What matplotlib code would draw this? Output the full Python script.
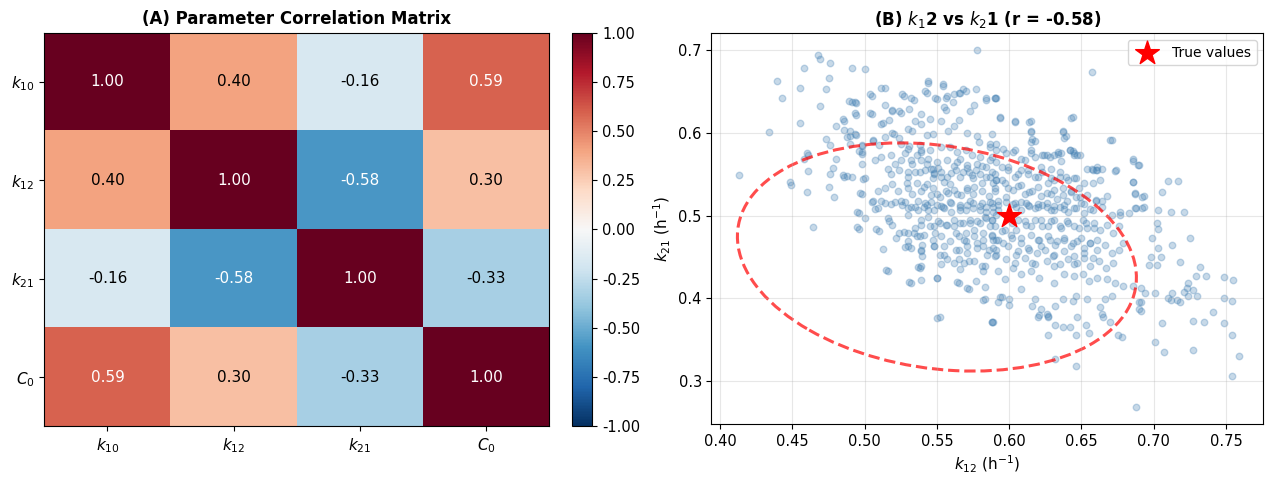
import numpy as np
import matplotlib
matplotlib.use("Agg")
import matplotlib.pyplot as plt
from matplotlib.patches import Ellipse

# --- panel A: correlation matrix ---
param_labels = ['$k_{10}$', '$k_{12}$', '$k_{21}$', '$C_0$']
corr = np.array([
    [1.00, 0.40, -0.16, 0.59],
    [0.40, 1.00, -0.58, 0.30],
    [-0.16, -0.58, 1.00, -0.33],
    [0.59, 0.30, -0.33, 1.00],
])

# --- panel B: posterior samples (k12, k21) ---
outer_left = np.array([
    [0.413, 0.549], [0.434, 0.601], [0.439, 0.663], [0.443, 0.643], [0.455, 0.655], [0.455, 0.612],
    [0.458, 0.679], [0.468, 0.695], [0.469, 0.690], [0.476, 0.685], [0.475, 0.667], [0.473, 0.653],
    [0.469, 0.633], [0.473, 0.593], [0.480, 0.609], [0.476, 0.585], [0.491, 0.679], [0.500, 0.678],
    [0.489, 0.639], [0.493, 0.637], [0.485, 0.617], [0.493, 0.624], [0.486, 0.604], [0.490, 0.596],
    [0.494, 0.598], [0.496, 0.578], [0.504, 0.647], [0.504, 0.624], [0.511, 0.655], [0.514, 0.634],
    [0.519, 0.628], [0.526, 0.647], [0.532, 0.642], [0.513, 0.612], [0.524, 0.627], [0.524, 0.594],
    [0.519, 0.600], [0.506, 0.590], [0.498, 0.584], [0.460, 0.576], [0.461, 0.574], [0.458, 0.568],
    [0.461, 0.554], [0.448, 0.541], [0.449, 0.537], [0.460, 0.529], [0.475, 0.535], [0.476, 0.551],
    [0.479, 0.523], [0.485, 0.549], [0.488, 0.548], [0.495, 0.505], [0.495, 0.486], [0.464, 0.486],
    [0.497, 0.527], [0.499, 0.544], [0.478, 0.558], [0.480, 0.569], [0.498, 0.577],
])
outer_top = np.array([
    [0.544, 0.663], [0.554, 0.659], [0.542, 0.651], [0.549, 0.642], [0.557, 0.645], [0.565, 0.649],
    [0.568, 0.653], [0.577, 0.653], [0.584, 0.642], [0.590, 0.643], [0.578, 0.700], [0.555, 0.631],
    [0.561, 0.637], [0.573, 0.627], [0.594, 0.619], [0.604, 0.615], [0.615, 0.614], [0.615, 0.603],
    [0.637, 0.602], [0.639, 0.596], [0.644, 0.620], [0.657, 0.674], [0.671, 0.592], [0.616, 0.593],
    [0.624, 0.574], [0.634, 0.577], [0.642, 0.580], [0.645, 0.576], [0.647, 0.574], [0.661, 0.559],
    [0.664, 0.557], [0.674, 0.555], [0.686, 0.568], [0.690, 0.561], [0.686, 0.541], [0.687, 0.528],
    [0.693, 0.524], [0.693, 0.511], [0.688, 0.509], [0.703, 0.507], [0.706, 0.529], [0.710, 0.542],
    [0.712, 0.504], [0.677, 0.504],
])
outer_right = np.array([
    [0.702, 0.491], [0.703, 0.484], [0.699, 0.473], [0.703, 0.461], [0.698, 0.450], [0.705, 0.450],
    [0.702, 0.440], [0.697, 0.440], [0.713, 0.465], [0.718, 0.444], [0.725, 0.473], [0.721, 0.505],
    [0.717, 0.542], [0.732, 0.438], [0.736, 0.427], [0.729, 0.427], [0.724, 0.418], [0.723, 0.412],
    [0.721, 0.408], [0.727, 0.410], [0.730, 0.403], [0.724, 0.403], [0.716, 0.398], [0.712, 0.398],
    [0.710, 0.400], [0.718, 0.396], [0.713, 0.407], [0.701, 0.407], [0.694, 0.406], [0.691, 0.396],
    [0.691, 0.385], [0.706, 0.370], [0.727, 0.372], [0.735, 0.371], [0.741, 0.383], [0.749, 0.426],
    [0.755, 0.422], [0.749, 0.400], [0.754, 0.397], [0.749, 0.370], [0.754, 0.355], [0.759, 0.330],
    [0.754, 0.306], [0.701, 0.347], [0.707, 0.335], [0.727, 0.338], [0.688, 0.268], [0.675, 0.355],
    [0.678, 0.353],
])
outer_low = np.array([
    [0.550, 0.376], [0.552, 0.377], [0.550, 0.424], [0.588, 0.371], [0.582, 0.398], [0.592, 0.395],
    [0.600, 0.392], [0.594, 0.401], [0.564, 0.420], [0.571, 0.412], [0.539, 0.422], [0.531, 0.420],
    [0.515, 0.434], [0.537, 0.438], [0.621, 0.380], [0.627, 0.379], [0.632, 0.368], [0.637, 0.365],
    [0.642, 0.365], [0.647, 0.377], [0.653, 0.368], [0.655, 0.358], [0.646, 0.356], [0.627, 0.356],
    [0.646, 0.318], [0.632, 0.326], [0.665, 0.377], [0.670, 0.371], [0.664, 0.381],
])
core_upper_left = np.array([
    [0.514, 0.654], [0.527, 0.645], [0.544, 0.661], [0.543, 0.649], [0.554, 0.657], [0.550, 0.641],
    [0.556, 0.643], [0.562, 0.647], [0.566, 0.648], [0.570, 0.651], [0.576, 0.634], [0.584, 0.640],
    [0.591, 0.642], [0.505, 0.645], [0.491, 0.638], [0.494, 0.636], [0.494, 0.622], [0.505, 0.623],
    [0.519, 0.627], [0.525, 0.624], [0.531, 0.629], [0.534, 0.640], [0.539, 0.623], [0.535, 0.615],
    [0.539, 0.611], [0.530, 0.605], [0.533, 0.603], [0.511, 0.611], [0.517, 0.616], [0.486, 0.615],
    [0.490, 0.603], [0.493, 0.599], [0.488, 0.595], [0.545, 0.617], [0.553, 0.615], [0.556, 0.628],
    [0.565, 0.616], [0.558, 0.603], [0.562, 0.608], [0.571, 0.600], [0.578, 0.596], [0.579, 0.589],
    [0.587, 0.583], [0.591, 0.587], [0.547, 0.599], [0.543, 0.598], [0.520, 0.599], [0.514, 0.595],
    [0.506, 0.591], [0.498, 0.585], [0.490, 0.587], [0.510, 0.585], [0.525, 0.587], [0.530, 0.581],
    [0.538, 0.585], [0.539, 0.577], [0.545, 0.579], [0.553, 0.583], [0.559, 0.583], [0.564, 0.577],
    [0.570, 0.579], [0.574, 0.573], [0.580, 0.571], [0.588, 0.571], [0.591, 0.565], [0.498, 0.575],
    [0.498, 0.563], [0.507, 0.567], [0.511, 0.571], [0.518, 0.573], [0.521, 0.563], [0.525, 0.567],
    [0.532, 0.567], [0.539, 0.567], [0.544, 0.569], [0.550, 0.565], [0.557, 0.567], [0.564, 0.565],
    [0.571, 0.561], [0.578, 0.563], [0.584, 0.559], [0.486, 0.547], [0.491, 0.547], [0.500, 0.545],
    [0.516, 0.557], [0.518, 0.551], [0.524, 0.555], [0.530, 0.547], [0.535, 0.553], [0.542, 0.555],
    [0.547, 0.557], [0.548, 0.551], [0.553, 0.553], [0.557, 0.547], [0.563, 0.555], [0.566, 0.547],
    [0.572, 0.553], [0.575, 0.545], [0.580, 0.551], [0.587, 0.547], [0.591, 0.543], [0.509, 0.530],
    [0.514, 0.534], [0.519, 0.538], [0.523, 0.530], [0.530, 0.534], [0.533, 0.526], [0.539, 0.530],
    [0.543, 0.538], [0.547, 0.534], [0.550, 0.526], [0.556, 0.530], [0.559, 0.538], [0.564, 0.526],
    [0.571, 0.534], [0.575, 0.526], [0.581, 0.530], [0.586, 0.524], [0.590, 0.534], [0.498, 0.526],
    [0.506, 0.518], [0.511, 0.518], [0.518, 0.514], [0.525, 0.518], [0.537, 0.518], [0.541, 0.510],
    [0.546, 0.516], [0.553, 0.512], [0.559, 0.516], [0.566, 0.510], [0.573, 0.518], [0.580, 0.512],
    [0.587, 0.516], [0.507, 0.508],
])
core_upper_right = np.array([
    [0.590, 0.642], [0.594, 0.618], [0.604, 0.613], [0.614, 0.613], [0.615, 0.601], [0.615, 0.589],
    [0.643, 0.618], [0.637, 0.601], [0.638, 0.594], [0.642, 0.579], [0.645, 0.573], [0.634, 0.575],
    [0.628, 0.571], [0.623, 0.573], [0.670, 0.591], [0.654, 0.557], [0.658, 0.555], [0.660, 0.555],
    [0.663, 0.543], [0.658, 0.539], [0.673, 0.554], [0.686, 0.566], [0.689, 0.561], [0.686, 0.541],
    [0.687, 0.526], [0.692, 0.522], [0.668, 0.524], [0.664, 0.518], [0.660, 0.518], [0.588, 0.599],
    [0.587, 0.587], [0.591, 0.579], [0.596, 0.581], [0.603, 0.577], [0.611, 0.567], [0.615, 0.579],
    [0.618, 0.571], [0.622, 0.559], [0.629, 0.557], [0.635, 0.553], [0.639, 0.547], [0.645, 0.545],
    [0.648, 0.534], [0.643, 0.530], [0.637, 0.534], [0.631, 0.543], [0.627, 0.539], [0.620, 0.547],
    [0.613, 0.551], [0.608, 0.555], [0.604, 0.547], [0.599, 0.555], [0.595, 0.559], [0.590, 0.551],
    [0.595, 0.543], [0.599, 0.534], [0.606, 0.536], [0.611, 0.526], [0.616, 0.530], [0.622, 0.524],
    [0.629, 0.526], [0.633, 0.520], [0.640, 0.518], [0.646, 0.522], [0.652, 0.514], [0.656, 0.508],
    [0.590, 0.530], [0.592, 0.518], [0.598, 0.522], [0.603, 0.514], [0.608, 0.516], [0.614, 0.512],
    [0.620, 0.514], [0.626, 0.510], [0.631, 0.512], [0.638, 0.508], [0.587, 0.567], [0.589, 0.539],
])
core_lower_left = np.array([
    [0.505, 0.517], [0.509, 0.509], [0.514, 0.515], [0.521, 0.517], [0.526, 0.513], [0.530, 0.509],
    [0.535, 0.511], [0.542, 0.515], [0.544, 0.507], [0.550, 0.513], [0.555, 0.509], [0.560, 0.515],
    [0.566, 0.507], [0.571, 0.513], [0.575, 0.509], [0.581, 0.515], [0.584, 0.505], [0.589, 0.511],
    [0.591, 0.501], [0.496, 0.503], [0.500, 0.497], [0.496, 0.484], [0.508, 0.484], [0.510, 0.481],
    [0.516, 0.497], [0.517, 0.493], [0.519, 0.489], [0.524, 0.479], [0.522, 0.473], [0.527, 0.480],
    [0.530, 0.501], [0.530, 0.469], [0.534, 0.479], [0.538, 0.475], [0.540, 0.465], [0.539, 0.457],
    [0.540, 0.451], [0.513, 0.460], [0.528, 0.462], [0.532, 0.461], [0.539, 0.495], [0.544, 0.499],
    [0.548, 0.487], [0.549, 0.479], [0.548, 0.463], [0.552, 0.491], [0.555, 0.463], [0.552, 0.453],
    [0.557, 0.447], [0.562, 0.443], [0.565, 0.447], [0.566, 0.435], [0.572, 0.445], [0.576, 0.445],
    [0.557, 0.489], [0.562, 0.487], [0.563, 0.479], [0.566, 0.491], [0.570, 0.479], [0.569, 0.471],
    [0.573, 0.491], [0.576, 0.483], [0.580, 0.491], [0.584, 0.497], [0.587, 0.487], [0.582, 0.479],
    [0.588, 0.475], [0.591, 0.471], [0.578, 0.467], [0.582, 0.463], [0.586, 0.459], [0.589, 0.461],
    [0.591, 0.453], [0.571, 0.463], [0.565, 0.459], [0.581, 0.439], [0.582, 0.433], [0.516, 0.433],
    [0.538, 0.437], [0.532, 0.419], [0.550, 0.424], [0.565, 0.419], [0.572, 0.411], [0.577, 0.421],
    [0.583, 0.414], [0.583, 0.399], [0.589, 0.371],
])
core_lower_right = np.array([
    [0.588, 0.515], [0.592, 0.507], [0.604, 0.515], [0.608, 0.507], [0.613, 0.513], [0.620, 0.511],
    [0.626, 0.515], [0.631, 0.507], [0.638, 0.513], [0.645, 0.509], [0.650, 0.515], [0.664, 0.511],
    [0.671, 0.501], [0.677, 0.501], [0.683, 0.503], [0.687, 0.509], [0.692, 0.509], [0.588, 0.495],
    [0.590, 0.487], [0.595, 0.481], [0.602, 0.491], [0.605, 0.483], [0.611, 0.493], [0.615, 0.487],
    [0.622, 0.495], [0.627, 0.487], [0.631, 0.495], [0.636, 0.485], [0.640, 0.493], [0.645, 0.487],
    [0.651, 0.495], [0.654, 0.485], [0.659, 0.491], [0.663, 0.483], [0.668, 0.489], [0.672, 0.479],
    [0.676, 0.487], [0.589, 0.471], [0.596, 0.467], [0.602, 0.473], [0.608, 0.467], [0.614, 0.459],
    [0.620, 0.471], [0.622, 0.463], [0.628, 0.471], [0.632, 0.465], [0.638, 0.471], [0.643, 0.463],
    [0.647, 0.469], [0.652, 0.461], [0.656, 0.467], [0.661, 0.459], [0.666, 0.465], [0.671, 0.455],
    [0.676, 0.459], [0.679, 0.467], [0.590, 0.451], [0.598, 0.447], [0.605, 0.453], [0.611, 0.449],
    [0.616, 0.443], [0.626, 0.445], [0.630, 0.451], [0.635, 0.441], [0.641, 0.447], [0.647, 0.443],
    [0.652, 0.449], [0.656, 0.439], [0.662, 0.445], [0.667, 0.437], [0.672, 0.443], [0.592, 0.433],
    [0.603, 0.437], [0.608, 0.429], [0.615, 0.433], [0.621, 0.425], [0.631, 0.419], [0.638, 0.429],
    [0.645, 0.427], [0.651, 0.429], [0.655, 0.421], [0.661, 0.425], [0.668, 0.423], [0.673, 0.419],
    [0.679, 0.415], [0.686, 0.415], [0.691, 0.413], [0.597, 0.423], [0.595, 0.401], [0.600, 0.399],
    [0.608, 0.411], [0.618, 0.399], [0.622, 0.387], [0.626, 0.381], [0.627, 0.377], [0.632, 0.391],
    [0.637, 0.399], [0.644, 0.397], [0.646, 0.403], [0.654, 0.399], [0.663, 0.389], [0.666, 0.399],
    [0.671, 0.403], [0.690, 0.395], [0.690, 0.387], [0.620, 0.377], [0.588, 0.371], [0.616, 0.391],
])
# extra samples from the densest part, left and right of the true value
dense_left = np.array([
    [0.528, 0.576], [0.531, 0.584], [0.536, 0.574], [0.539, 0.580], [0.533, 0.562], [0.530, 0.553],
    [0.538, 0.553], [0.543, 0.562], [0.546, 0.556], [0.548, 0.552], [0.551, 0.558], [0.547, 0.546],
    [0.553, 0.547], [0.555, 0.541], [0.560, 0.552], [0.562, 0.560], [0.566, 0.568], [0.568, 0.553],
    [0.571, 0.558], [0.574, 0.549], [0.577, 0.555], [0.581, 0.560], [0.584, 0.547], [0.588, 0.553],
    [0.591, 0.543], [0.581, 0.539], [0.576, 0.535], [0.571, 0.531], [0.567, 0.525], [0.562, 0.531],
    [0.558, 0.527], [0.552, 0.523], [0.546, 0.525], [0.541, 0.535], [0.536, 0.539], [0.529, 0.539],
    [0.528, 0.517], [0.532, 0.511], [0.537, 0.507], [0.543, 0.513], [0.548, 0.507], [0.554, 0.511],
    [0.560, 0.505], [0.566, 0.513], [0.570, 0.507], [0.575, 0.515], [0.580, 0.507], [0.584, 0.511],
    [0.589, 0.505], [0.592, 0.513], [0.583, 0.499], [0.588, 0.495], [0.578, 0.493], [0.573, 0.495],
    [0.568, 0.491], [0.562, 0.495], [0.556, 0.489], [0.551, 0.493], [0.545, 0.487], [0.539, 0.489],
    [0.535, 0.485], [0.530, 0.479], [0.536, 0.475], [0.541, 0.477], [0.547, 0.471], [0.553, 0.475],
    [0.559, 0.469], [0.565, 0.475], [0.570, 0.469], [0.576, 0.475], [0.582, 0.471], [0.588, 0.477],
    [0.592, 0.471], [0.530, 0.463], [0.539, 0.459], [0.548, 0.463], [0.555, 0.453], [0.563, 0.459],
    [0.571, 0.455], [0.578, 0.461], [0.585, 0.453], [0.591, 0.459], [0.539, 0.439], [0.553, 0.441],
    [0.569, 0.443], [0.583, 0.439],
])
dense_right = np.array([
    [0.598, 0.576], [0.604, 0.580], [0.608, 0.568], [0.615, 0.576], [0.618, 0.590], [0.626, 0.574],
    [0.631, 0.574], [0.636, 0.576], [0.644, 0.578], [0.649, 0.574], [0.636, 0.566], [0.599, 0.559],
    [0.606, 0.551], [0.613, 0.555], [0.618, 0.547], [0.623, 0.553], [0.629, 0.545], [0.635, 0.547],
    [0.641, 0.543], [0.646, 0.545], [0.652, 0.539], [0.657, 0.557], [0.661, 0.555], [0.597, 0.539],
    [0.603, 0.531], [0.608, 0.537], [0.614, 0.529], [0.620, 0.535], [0.626, 0.527], [0.631, 0.531],
    [0.637, 0.525], [0.643, 0.529], [0.649, 0.523], [0.654, 0.525], [0.660, 0.519], [0.598, 0.517],
    [0.605, 0.511], [0.612, 0.515], [0.618, 0.509], [0.623, 0.513], [0.629, 0.507], [0.635, 0.511],
    [0.641, 0.505], [0.646, 0.509], [0.652, 0.503], [0.658, 0.507], [0.606, 0.495], [0.612, 0.489],
    [0.618, 0.495], [0.623, 0.487], [0.629, 0.493], [0.635, 0.487], [0.641, 0.491], [0.648, 0.485],
    [0.653, 0.491], [0.659, 0.485], [0.597, 0.483], [0.601, 0.477], [0.608, 0.473], [0.615, 0.477],
    [0.621, 0.471], [0.627, 0.475], [0.633, 0.469], [0.638, 0.473], [0.644, 0.467], [0.650, 0.473],
    [0.656, 0.467], [0.661, 0.471], [0.599, 0.463], [0.606, 0.457], [0.613, 0.461], [0.619, 0.455],
    [0.625, 0.459], [0.631, 0.453], [0.638, 0.457], [0.645, 0.451], [0.652, 0.455], [0.658, 0.449],
    [0.604, 0.443], [0.618, 0.441], [0.631, 0.439], [0.645, 0.441],
])

true_k12, true_k21 = 0.60, 0.50
r_k12_k21 = -0.58
# dashed confidence ellipse: centre, full width/height and rotation
ell_center = (0.55, 0.45)
ell_width, ell_height, ell_angle = 0.30, 0.25, -45

samples = np.vstack([outer_left, outer_top, outer_right, outer_low,
                     core_upper_left, core_upper_right, core_lower_left, core_lower_right,
                     dense_left, dense_right])
k12 = samples[:, 0]
k21 = samples[:, 1]

fig = plt.figure(figsize=(12.66, 4.79), dpi=100)
ax1 = fig.add_axes([0.035, 0.11, 0.399, 0.822])
cax = fig.add_axes([0.452, 0.11, 0.016, 0.822])
ax2 = fig.add_axes([0.562, 0.115, 0.436, 0.816])

# (A) heatmap
im = ax1.imshow(corr, cmap='RdBu_r', vmin=-1, vmax=1, aspect='auto')
ax1.set_xticks(range(len(param_labels)))
ax1.set_yticks(range(len(param_labels)))
ax1.set_xticklabels(param_labels, fontsize=11)
ax1.set_yticklabels(param_labels, fontsize=11)
for i in range(corr.shape[0]):
    for j in range(corr.shape[1]):
        v = corr[i, j]
        ax1.text(j, i, f"{v:.2f}", ha='center', va='center', fontsize=11,
                 color='white' if abs(v) > 0.5 else 'black')
ax1.set_title('(A) Parameter Correlation Matrix', fontsize=12, fontweight='bold')
cb = fig.colorbar(im, cax=cax)
cb.set_ticks(np.arange(-1, 1.01, 0.25))
cb.ax.yaxis.set_major_formatter(matplotlib.ticker.FormatStrFormatter('%.2f'))
cb.ax.tick_params(labelsize=10.5)

# (B) scatter
ax2.scatter(k12, k21, s=22, color='steelblue', alpha=0.3)
ax2.scatter([true_k12], [true_k21], marker='*', s=320, color='red', zorder=5, label='True values')
ell = Ellipse(ell_center, ell_width, ell_height, angle=ell_angle, fill=False,
              edgecolor='red', linestyle='--', linewidth=2.2, alpha=0.7)
ax2.add_patch(ell)
ax2.set_xlim(0.394, 0.776)
ax2.set_ylim(0.248, 0.721)
ax2.set_xlabel(r'$k_{12}$ (h$^{-1}$)', fontsize=11)
ax2.set_ylabel(r'$k_{21}$ (h$^{-1}$)', fontsize=11)
ax2.set_title(f'(B) $k_1$2 vs $k_2$1 (r = {r_k12_k21:.2f})', fontsize=12, fontweight='bold')
ax2.grid(True, alpha=0.3)
ax2.tick_params(labelsize=10.5)
ax2.legend(loc='upper right', fontsize=10)

fig.savefig('out.png', dpi=100)
